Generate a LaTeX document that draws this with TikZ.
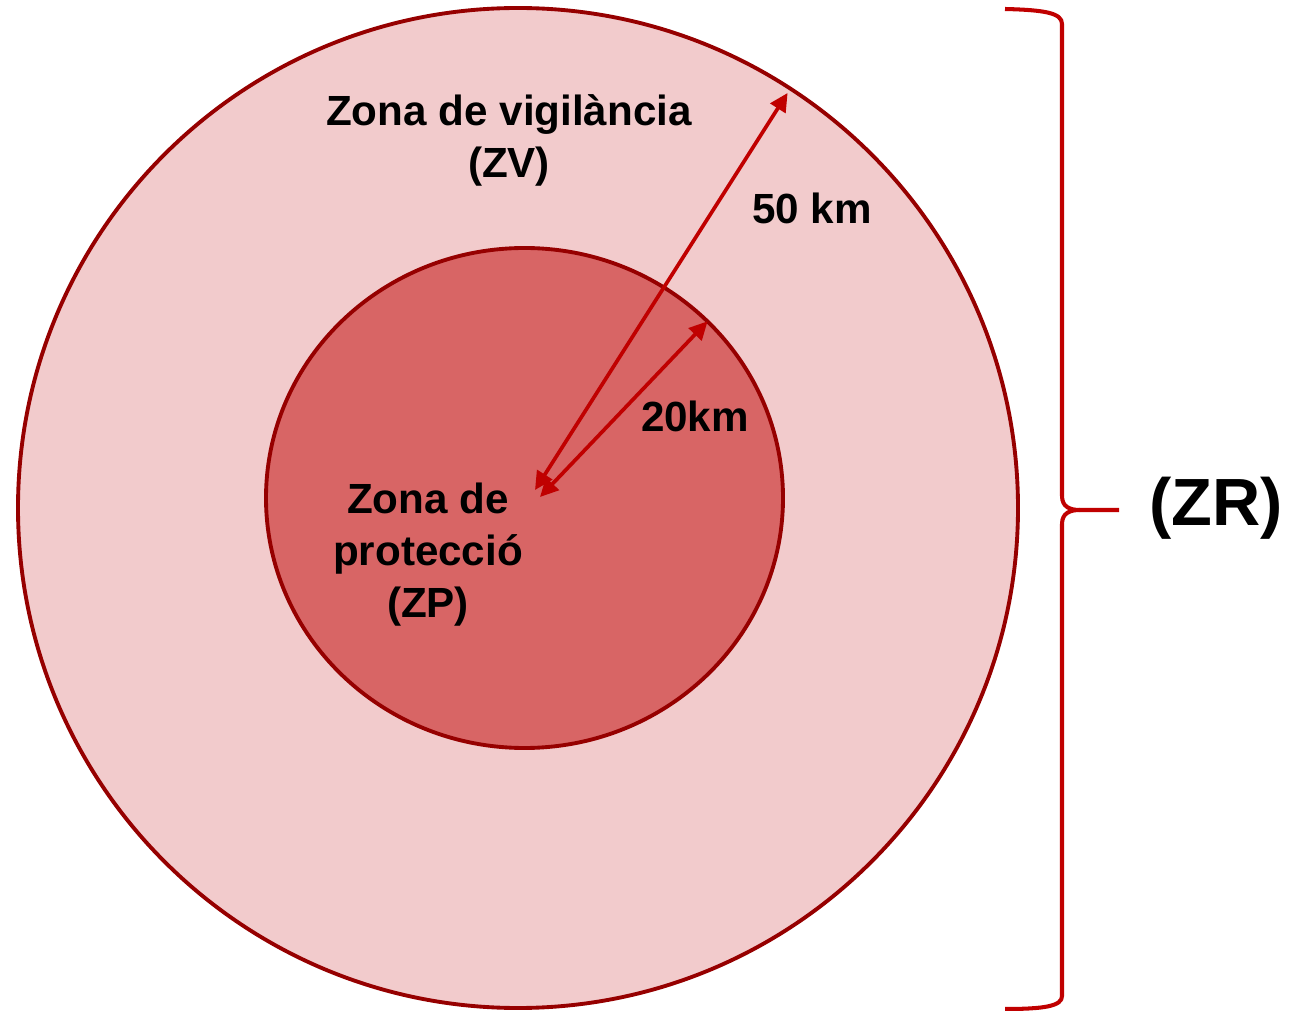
\documentclass[tikz,border=0pt]{standalone}
\usepackage{fontspec}
\setmainfont{Liberation Sans}
\usepackage{tikz}
\usetikzlibrary{shapes, arrows, calc, positioning}
\usetikzlibrary{arrows.meta}

\definecolor{zvfill}{HTML}{F2CBCC}
\definecolor{zpfill}{HTML}{D86565}
\definecolor{zoneline}{HTML}{960000}
\definecolor{arrowred}{HTML}{C00000}

\begin{document}
\begin{tikzpicture}[
  zone/.style={draw=zoneline, line width=1.1pt, inner sep=0pt},
  radius arrow/.style={draw=arrowred, line width=1.05pt, {Triangle[length=5.2pt,width=5pt]}-{Triangle[length=5.2pt,width=5pt]}},
  brace line/.style={draw=arrowred, line width=1.15pt},
  every node/.style={font=\fontsize{12}{14.8}\selectfont\bfseries, align=center},
  zone label/.style={inner sep=0pt}
]
\useasboundingbox (0,0) rectangle (13.02,10.10);

% zones
\node[zone, circle, fill=zvfill, minimum size=10cm] (zv) at (5.18,5.02) {};
\node[zone, ellipse, fill=zpfill, minimum width=5.17cm, minimum height=5cm] (zp) at (5.245,5.12) {};

% radii
\coordinate (c1) at (5.35,5.20);
\coordinate (c2) at (5.40,5.13);
\draw[radius arrow, shorten >=2pt] (c1) -- (zv.57.6);
\draw[radius arrow, shorten >=0.5pt] (c2) -- (zp.44);

\node[zone label] (zvtext) at (5.09,8.70) {Zona de vigilància\\(ZV)};
\node[zone label] (zptext) at (4.28,4.55) {Zona de\\protecció\\(ZP)};
\node[zone label] (r50) at (8.12,8.02) {50 km};
\node[zone label] (r20) at (6.95,5.94) {20km};

% brace
\draw[brace line] (10.05,10.01) .. controls (10.45,10.00) and (10.62,9.97) .. (10.62,9.86)
  -- (10.62,5.14) .. controls (10.62,5.03) and (10.70,5.00) .. (10.80,5.00) -- (11.19,5.00);
\draw[brace line] (10.80,5.00) .. controls (10.70,5.00) and (10.62,4.97) .. (10.62,4.86)
  -- (10.62,0.14) .. controls (10.62,0.04) and (10.45,0.01) .. (10.05,0.01);
\node[zone label, font=\fontsize{19}{22}\selectfont\bfseries] (zr) at (12.16,5.02) {(ZR)};

\end{tikzpicture}
\end{document}
